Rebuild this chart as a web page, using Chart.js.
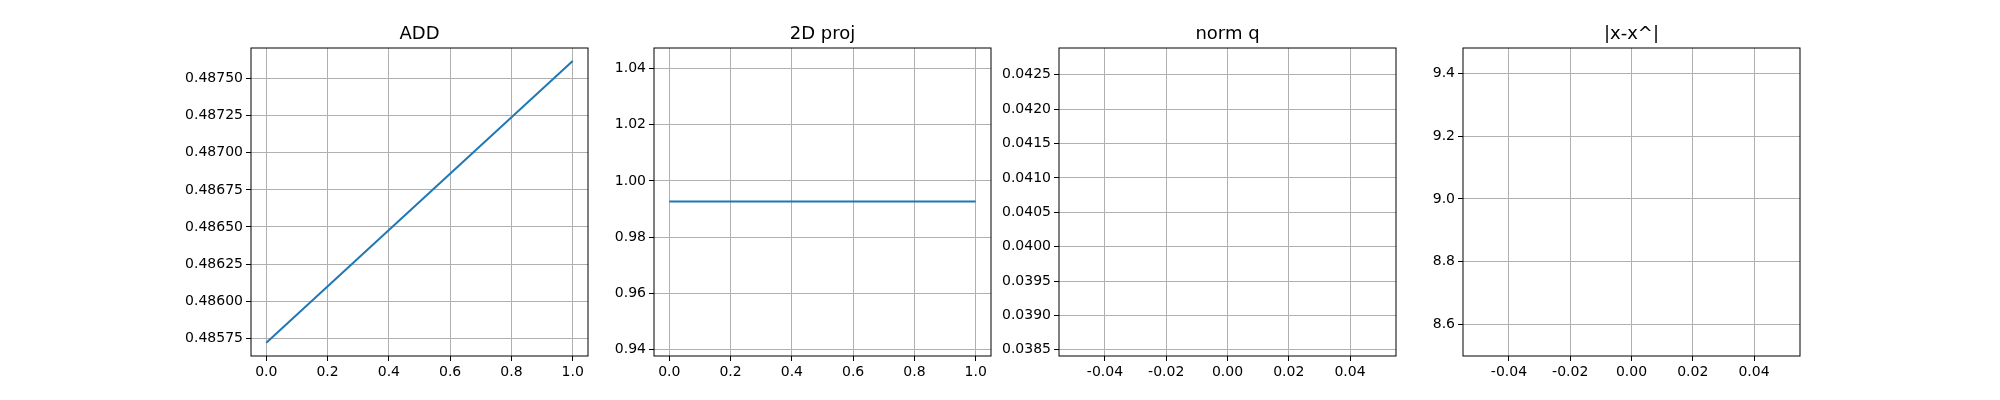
<!DOCTYPE html>
<html>
<head>
<meta charset="utf-8">
<script src="https://cdn.jsdelivr.net/npm/chart.js@4/dist/chart.umd.min.js"></script>
<style>
body { margin: 0; background: #fff; width: 2000px; height: 400px; position: relative; overflow: hidden; }
.panel { position: absolute; top: 0; width: 437px; height: 400px; }
.title { position: absolute; top: 22px; left: 90px; width: 337px; text-align: center; font: 18px "DejaVu Sans"; color: #000; }
</style>
</head>
<body>
<script>
// data
const addX = [0, 1];
const addY = [0.48572, 0.48762];
const projX = [0, 1];
const projY = [0.9927, 0.9927];
const normX = [0];
const normY = [NaN];
const errX = [0];
const errY = [NaN];

const titles = ['ADD', '2D proj', 'norm q', '|x-x^|'];
const xTicksA = [0, 0.2, 0.4, 0.6, 0.8, 1.0];
const xTicksB = [-0.04, -0.02, 0, 0.02, 0.04];
const yTicksAdd = [0.48575, 0.486, 0.48625, 0.4865, 0.48675, 0.487, 0.48725, 0.4875];
const yTicksProj = [0.94, 0.96, 0.98, 1.0, 1.02, 1.04];
const yTicksNorm = [0.0385, 0.039, 0.0395, 0.04, 0.0405, 0.041, 0.0415, 0.042, 0.0425];
const yTicksErr = [8.6, 8.8, 9.0, 9.2, 9.4];

Chart.defaults.font.family = 'DejaVu Sans';
Chart.defaults.font.size = 14;
Chart.defaults.color = '#000';

const frame = {
  id: 'frame',
  afterDraw(c) {
    const a = c.chartArea, g = c.ctx;
    g.save(); g.strokeStyle = '#000'; g.lineWidth = 1;
    g.strokeRect(a.left, a.top, a.right - a.left, a.bottom - a.top);
    g.restore();
  }
};

const panels = [
  { left: 251, xs: addX, ys: addY, xr: [-0.05, 1.05], xt: xTicksA, xd: 1, yr: [0.48563, 0.487707], yt: yTicksAdd, yd: 5 },
  { left: 654, xs: projX, ys: projY, xr: [-0.05, 1.05], xt: xTicksA, xd: 1, yr: [0.9377, 1.0473], yt: yTicksProj, yd: 2 },
  { left: 1059, xs: normX, ys: normY, xr: [-0.055, 0.055], xt: xTicksB, xd: 2, yr: [0.03841, 0.04289], yt: yTicksNorm, yd: 4 },
  { left: 1463, xs: errX, ys: errY, xr: [-0.055, 0.055], xt: xTicksB, xd: 2, yr: [8.498, 9.482], yt: yTicksErr, yd: 1 }
];

panels.forEach((p, i) => {
  const div = document.createElement('div');
  div.className = 'panel';
  div.style.left = (p.left - 90) + 'px';
  div.innerHTML = '<div class="title">' + titles[i] + '</div><canvas width="437" height="400"></canvas>';
  document.body.appendChild(div);
  const grid = { color: '#b0b0b0', tickColor: '#000', tickLength: 5 };
  new Chart(div.querySelector('canvas'), {
    type: 'line',
    data: { datasets: [{ data: p.xs.map((x, k) => ({ x: x, y: p.ys[k] })), borderColor: '#1f77b4', borderWidth: 2, pointRadius: 0 }] },
    options: {
      responsive: false, animation: false,
      layout: { padding: { top: 48, right: 10, left: 0, bottom: 0 } },
      plugins: { legend: { display: false }, tooltip: { enabled: false } },
      scales: {
        x: {
          type: 'linear', min: p.xr[0], max: p.xr[1], grid: grid, border: { display: false },
          afterBuildTicks: s => { s.ticks = p.xt.map(v => ({ value: v })); },
          ticks: { maxRotation: 0, callback: v => v.toFixed(p.xd) },
          afterFit: s => { s.height = 44; }
        },
        y: {
          type: 'linear', min: p.yr[0], max: p.yr[1], grid: grid, border: { display: false },
          afterBuildTicks: s => { s.ticks = p.yt.map(v => ({ value: v })); },
          ticks: { callback: v => v.toFixed(p.yd) },
          afterFit: s => { s.width = 90; }
        }
      }
    },
    plugins: [frame]
  });
});
</script>
</body>
</html>
